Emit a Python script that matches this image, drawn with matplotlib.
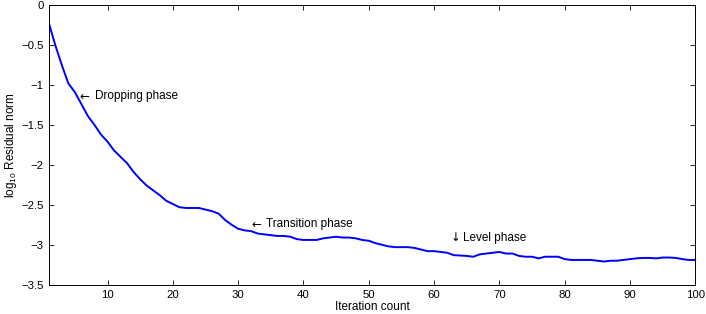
import numpy as np
import matplotlib.pyplot as plt
from matplotlib.ticker import FuncFormatter

plt.rcParams['font.family'] = ['Liberation Sans', 'DejaVu Sans']
plt.rcParams['mathtext.fontset'] = 'custom'
plt.rcParams['mathtext.rm'] = 'Liberation Sans'

#DATA
iters = np.arange(1, 101)
log_res = [
    -0.22, -0.50, -0.75, -0.98, -1.09, -1.24, -1.39, -1.50, -1.62, -1.71,
    -1.82, -1.90, -1.98, -2.09, -2.18, -2.26, -2.32, -2.38, -2.45, -2.49,
    -2.53, -2.54, -2.54, -2.54, -2.56, -2.58, -2.61, -2.69, -2.75, -2.80,
    -2.82, -2.83, -2.86, -2.87, -2.88, -2.89, -2.89, -2.90, -2.93, -2.94,
    -2.94, -2.94, -2.92, -2.91, -2.90, -2.91, -2.91, -2.92, -2.94, -2.95,
    -2.98, -3.00, -3.02, -3.03, -3.03, -3.03, -3.04, -3.06, -3.08, -3.08,
    -3.09, -3.10, -3.13, -3.135, -3.14, -3.15, -3.12, -3.11, -3.10, -3.09,
    -3.11, -3.11, -3.14, -3.15, -3.15, -3.17, -3.15, -3.15, -3.15, -3.18,
    -3.19, -3.19, -3.19, -3.19, -3.20, -3.21, -3.20, -3.20, -3.19, -3.18,
    -3.17, -3.165, -3.165, -3.17, -3.16, -3.16, -3.165, -3.18, -3.19, -3.19,
]
note_arrows = ['\u2190', '\u2190', '\u2193']
note_labels = ['Dropping phase', 'Transition phase', 'Level phase']
note_x = [5.7, 32.0, 62.6]
note_y = [-1.14, -2.74, -2.91]
###

fig = plt.figure(figsize=(7.06, 3.14), dpi=100)
ax = fig.add_axes([0.069, 0.0933, 0.916, 0.8907])

ax.plot(iters, log_res, color='#0000ff', lw=1.4)

# arrows from DejaVu (bigger glyph), words in Liberation
for arr, txt, x, y in zip(note_arrows, note_labels, note_x, note_y):
    ax.text(x, y, arr, fontsize=8.5, va='center', ha='left', family='DejaVu Sans')
    off = 8.5 if arr == '\u2193' else 11.0
    ax.annotate(txt, (x, y), xytext=(off, 0), textcoords='offset points',
                fontsize=8.5, va='center', ha='left')

ax.set_xlim(1, 100)
ax.set_ylim(-3.5, 0)
ax.set_xticks(np.arange(10, 101, 10))
ax.set_yticks(np.arange(-3.5, 0.01, 0.5))
ax.yaxis.set_major_formatter(FuncFormatter(lambda v, p: ('%g' % v).replace('-', '\u2212')))
ax.tick_params(direction='in', top=True, right=True, length=3.5, labelsize=8.2, width=0.6)
for s in ax.spines.values():
    s.set_linewidth(0.7)

ax.set_xlabel('Iteration count', fontsize=8.5, labelpad=1)
ax.set_ylabel(r'log$_{10}$ Residual norm', fontsize=8.5, labelpad=2)

fig.savefig('out.png', dpi=100)
